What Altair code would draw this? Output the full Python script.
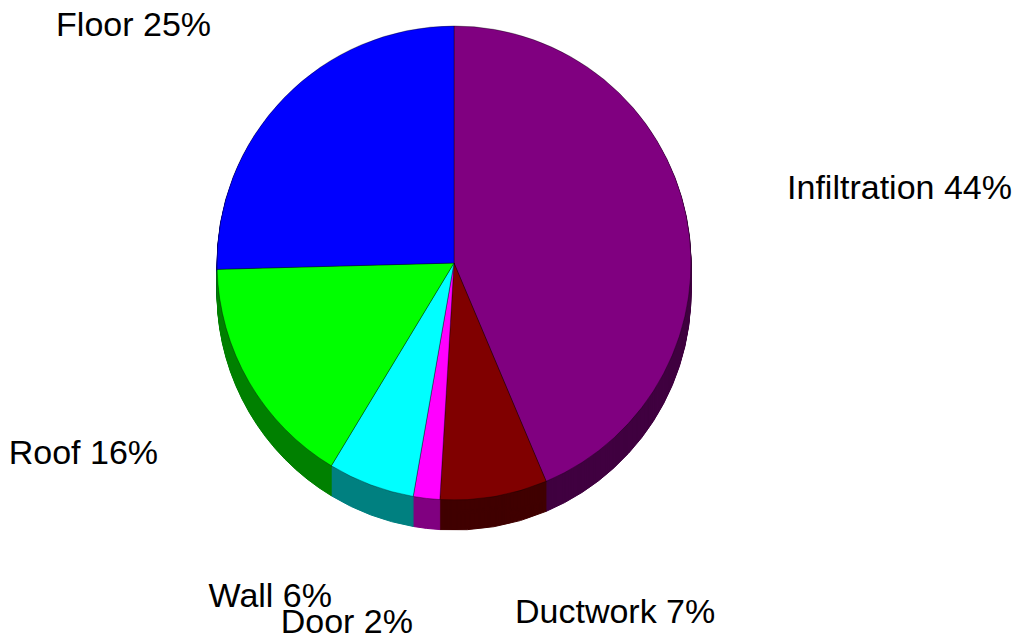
import math
import altair as alt
import pandas as pd

categories = ["Infiltration", "Ductwork", "Door", "Wall", "Roof", "Floor"]
values = [43.6, 7.3, 1.8, 5.9, 15.9, 25.4]
top_colors = ["#800080", "#800000", "#ff00ff", "#00ffff", "#00ff00", "#0000ff"]
side_colors = ["#400040", "#400000", "#800080", "#008080", "#008000", "#000080"]

df = pd.DataFrame({"cat": categories, "value": values, "idx": list(range(len(categories)))})
df["label"] = [f"{c} {round(v)}%" for c, v in zip(categories, values)]

CX, CY, R, DEPTH = 446, 255, 237, 30
theta_scale = alt.Scale(domain=[0, 1], range=[0, 2 * math.pi])


def base():
    return (
        alt.Chart()
        .transform_window(cum="sum(value)", sort=[alt.SortField("idx")], frame=[None, 0])
        .transform_joinaggregate(total="sum(value)")
        .transform_calculate(
            start="(datum.cum - datum.value) / datum.total",
            end="datum.cum / datum.total",
            mid="(datum.cum - datum.value / 2) / datum.total",
        )
    )


layers = []
for d in range(DEPTH, 0, -1):
    layers.append(
        base()
        .mark_arc(radius=R, strokeWidth=1)
        .encode(
            theta=alt.Theta("start:Q", scale=theta_scale),
            theta2="end:Q",
            fill=alt.Fill("cat:N", scale=alt.Scale(domain=categories, range=side_colors), legend=None),
            stroke=alt.Stroke("cat:N", scale=alt.Scale(domain=categories, range=side_colors), legend=None),
            x=alt.value(CX),
            y=alt.value(CY + d),
        )
    )

layers.append(
    base()
    .mark_arc(radius=R, stroke="#000000", strokeWidth=0.6, strokeOpacity=0.6)
    .encode(
        theta=alt.Theta("start:Q", scale=theta_scale),
        theta2="end:Q",
        color=alt.Color("cat:N", scale=alt.Scale(domain=categories, range=top_colors), legend=None),
        x=alt.value(CX),
        y=alt.value(CY),
    )
)

label_style = {
    "Infiltration": ("left", 9.6, 1.4),
    "Ductwork": ("left", 5.2, 34.8),
    "Door": ("right", -2.7, 42.2),
    "Wall": ("right", -6.2, 35.0),
    "Roof": ("right", -10.7, 35.1),
    "Floor": ("right", -6.5, 3.1),
}

for cat in categories:
    align, dx, dy = label_style[cat]
    layers.append(
        base()
        .transform_filter(alt.datum.cat == cat)
        .mark_text(
            radius=330, align=align, dx=dx, dy=dy, baseline="alphabetic",
            fontSize=34, font="Liberation Sans", color="#000000",
        )
        .encode(
            theta=alt.Theta("mid:Q", scale=theta_scale),
            text="label:N",
            x=alt.value(CX),
            y=alt.value(CY),
        )
    )

chart = (
    alt.layer(*layers, data=df)
    .properties(width=1011, height=625, autosize="none", padding=0)
    .configure_view(stroke=None)
)

chart.save("out.html", embed_options={"renderer": "svg", "actions": False})
